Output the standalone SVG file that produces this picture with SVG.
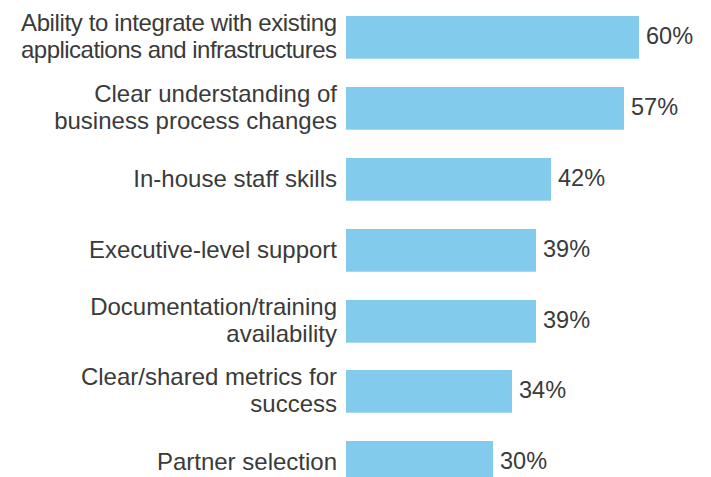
<svg xmlns="http://www.w3.org/2000/svg" width="711" height="477" viewBox="0 0 711 477">
<style>
.bar{fill:#82cbec}
.lbl{font-family:"Liberation Sans",Arial,sans-serif;font-size:24px;fill:#3a3a3a;text-anchor:end}
.val{font-family:"Liberation Sans",Arial,sans-serif;font-size:23.5px;fill:#3a3a3a}
</style>
<rect width="711" height="477" fill="#ffffff"/>
<g id="row1"><rect class="bar" x="346" y="16" width="293" height="42.7"/><text class="lbl" x="337" y="31" textLength="316">Ability to integrate with existing</text><text class="lbl" x="337" y="58" textLength="316">applications and infrastructures</text><text class="val" x="646" y="44.3">60%</text></g>
<g id="row2"><rect class="bar" x="346" y="87" width="278" height="42.7"/><text class="lbl" x="337" y="102">Clear understanding of</text><text class="lbl" x="337" y="129">business process changes</text><text class="val" x="631" y="115">57%</text></g>
<g id="row3"><rect class="bar" x="346" y="158" width="205" height="42.7"/><text class="lbl" x="337" y="186.5">In-house staff skills</text><text class="val" x="558" y="186.3">42%</text></g>
<g id="row4"><rect class="bar" x="346" y="229" width="190" height="42.7"/><text class="lbl" x="337" y="257.5">Executive-level support</text><text class="val" x="543" y="257.3">39%</text></g>
<g id="row5"><rect class="bar" x="346" y="300" width="190" height="42.7"/><text class="lbl" x="337" y="315">Documentation/training</text><text class="lbl" x="337" y="342">availability</text><text class="val" x="543" y="328.3">39%</text></g>
<g id="row6"><rect class="bar" x="346" y="370" width="166" height="42.7"/><text class="lbl" x="337" y="385">Clear/shared metrics for</text><text class="lbl" x="337" y="412">success</text><text class="val" x="519" y="398.3">34%</text></g>
<g id="row7"><rect class="bar" x="346" y="441" width="147" height="42.7"/><text class="lbl" x="337" y="469.5">Partner selection</text><text class="val" x="500" y="469.3">30%</text></g>
<g id="connectors"></g>
</svg>
